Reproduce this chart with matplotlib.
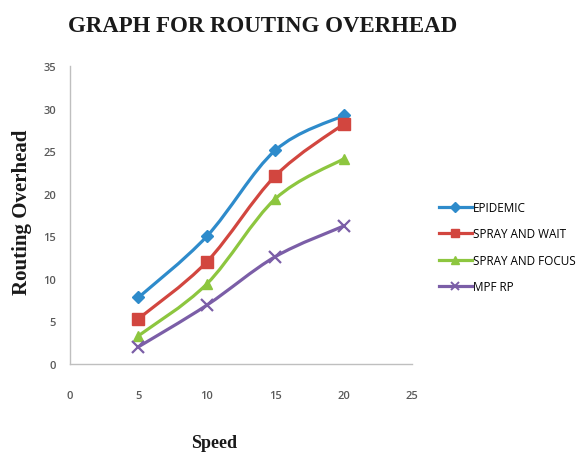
import numpy as np
import matplotlib.pyplot as plt
from matplotlib.path import Path
from matplotlib.patches import PathPatch

# speeds and routing overhead per protocol
speed = [5, 10, 15, 20]
epidemic = [7.8, 15.0, 25.1, 29.2]
spray_wait = [5.3, 12.0, 22.1, 28.2]
spray_focus = [3.3, 9.4, 19.4, 24.1]
mpf_rp = [2.0, 6.9, 12.6, 16.2]

names = ["EPIDEMIC", "SPRAY AND WAIT", "SPRAY AND FOCUS", "MPF RP"]
colors = ["#2E8BCB", "#D2463F", "#8DC63F", "#7B5EA7"]
markers = ["D", "s", "^", "x"]
msizes = [6, 8, 7, 8]


def smooth_path(x, y, t=1 / 6):
    # Catmull-Rom style bezier segments, like a spreadsheet "smoothed line"
    x = np.asarray(x, float)
    y = np.asarray(y, float)
    n = len(x)
    verts = [(x[0], y[0])]
    codes = [Path.MOVETO]
    for i in range(n - 1):
        p0 = i - 1 if i > 0 else i
        p3 = i + 2 if i + 2 < n else i + 1
        c1 = (x[i] + (x[i + 1] - x[p0]) * t, y[i] + (y[i + 1] - y[p0]) * t)
        c2 = (x[i + 1] - (x[p3] - x[i]) * t, y[i + 1] - (y[p3] - y[i]) * t)
        verts += [c1, c2, (x[i + 1], y[i + 1])]
        codes += [Path.CURVE4] * 3
    return Path(verts, codes)


fig = plt.figure(figsize=(5.79, 4.56), dpi=100)
ax = fig.add_axes([0.121, 0.2, 0.591, 0.653])

for vals, name, c, m, ms in zip([epidemic, spray_wait, spray_focus, mpf_rp],
                                names, colors, markers, msizes):
    ax.add_patch(PathPatch(smooth_path(speed, vals), fill=False, edgecolor=c,
                           lw=2.3, capstyle="round", joinstyle="round"))
    ax.plot(speed, vals, linestyle="none", marker=m, color=c, ms=ms,
            mew=1.6 if m == "x" else 1, label=name)

ax.set_xlim(0, 25)
ax.set_ylim(0, 35)
ax.set_xticks(range(0, 26, 5))
ax.set_yticks(range(0, 36, 5))
ax.tick_params(length=0, labelsize=8, labelcolor="#595959")
ax.tick_params(axis="x", pad=19)
ax.tick_params(axis="y", pad=10)
for lbl in ax.get_xticklabels() + ax.get_yticklabels():
    lbl.set_fontfamily("Open Sans")
    lbl.set_fontweight("semibold")
for s in ["top", "right"]:
    ax.spines[s].set_visible(False)
for s in ["left", "bottom"]:
    ax.spines[s].set_color("#BFBFBF")
    ax.spines[s].set_linewidth(1)

# legend handles: line with marker
handles = [plt.Line2D([], [], color=c, lw=2.3, marker=m, ms=ms * 0.8,
                      mew=1.4 if m == "x" else 1)
           for c, m, ms in zip(colors, markers, msizes)]
fig.legend(handles, names, loc="upper left", bbox_to_anchor=(0.739, 0.581),
           frameon=False, handlelength=2.8, handletextpad=0.1, labelspacing=1.15,
           prop={"family": "Open Sans", "size": 8.5})

fig.text(0.453, 0.942, "GRAPH FOR ROUTING OVERHEAD", ha="center", va="center",
         family="Liberation Serif", weight="bold", fontsize=16.5, color="#1a1a1a")
fig.text(0.038, 0.535, "Routing Overhead", ha="center", va="center", rotation=90,
         family="Liberation Serif", weight="bold", fontsize=15, color="#1a1a1a")
fig.text(0.37, 0.028, "Speed", ha="center", va="center",
         family="Liberation Serif", weight="bold", fontsize=13, color="#1a1a1a")

fig.savefig("out.png", dpi=100)
